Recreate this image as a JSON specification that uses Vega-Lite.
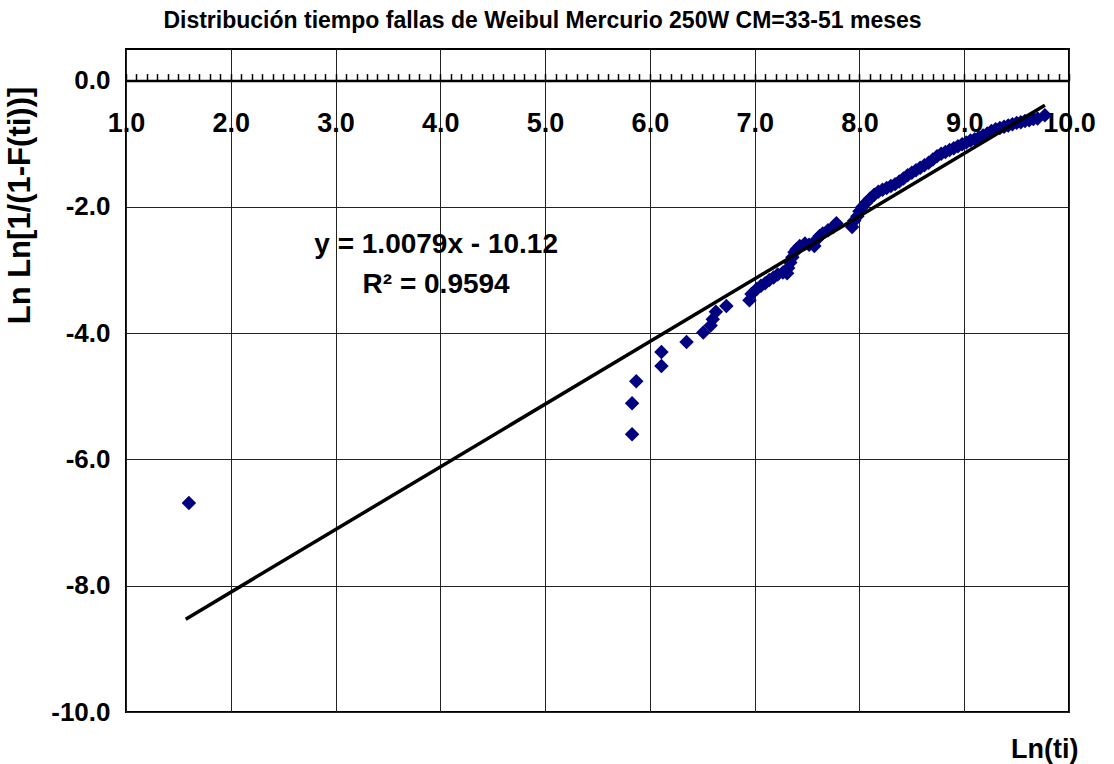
{
  "$schema": "https://vega.github.io/schema/vega-lite/v6.json",
  "width": 943,
  "height": 663,
  "autosize": {"type": "none"},
  "padding": {"left": 126, "top": 49, "right": 45, "bottom": 52},
  "background": "white",
  "config": {
    "view": {"stroke": "#000", "strokeWidth": 2},
    "font": "Liberation Sans"
  },
  "title": {
    "text": "Distribución tiempo fallas de Weibul Mercurio 250W CM=33-51 meses",
    "anchor": "middle",
    "dx": -55,
    "fontSize": 23,
    "fontWeight": "bold",
    "font": "Liberation Sans",
    "color": "#000",
    "offset": 16
  },
  "datasets": {
    "pts": [
      {"x": 1.60, "y": -6.69},
      {"x": 5.83, "y": -5.60},
      {"x": 5.83, "y": -5.11},
      {"x": 5.87, "y": -4.76},
      {"x": 6.11, "y": -4.52},
      {"x": 6.11, "y": -4.30},
      {"x": 6.35, "y": -4.14},
      {"x": 6.51, "y": -3.99},
      {"x": 6.58, "y": -3.88},
      {"x": 6.60, "y": -3.78},
      {"x": 6.63, "y": -3.66},
      {"x": 6.73, "y": -3.57},
      {"x": 6.95, "y": -3.48},
      {"x": 6.97, "y": -3.38},
      {"x": 7.02, "y": -3.30},
      {"x": 7.06, "y": -3.25},
      {"x": 7.10, "y": -3.21},
      {"x": 7.14, "y": -3.16},
      {"x": 7.18, "y": -3.12},
      {"x": 7.22, "y": -3.07},
      {"x": 7.27, "y": -3.04},
      {"x": 7.31, "y": -3.05},
      {"x": 7.32, "y": -2.97},
      {"x": 7.34, "y": -2.88},
      {"x": 7.36, "y": -2.80},
      {"x": 7.38, "y": -2.72},
      {"x": 7.40, "y": -2.67},
      {"x": 7.43, "y": -2.62},
      {"x": 7.48, "y": -2.58},
      {"x": 7.52, "y": -2.60},
      {"x": 7.57, "y": -2.62},
      {"x": 7.59, "y": -2.52},
      {"x": 7.62, "y": -2.46},
      {"x": 7.65, "y": -2.42},
      {"x": 7.70, "y": -2.37},
      {"x": 7.75, "y": -2.32},
      {"x": 7.78, "y": -2.26},
      {"x": 7.93, "y": -2.32},
      {"x": 7.95, "y": -2.22},
      {"x": 7.98, "y": -2.15},
      {"x": 8.00, "y": -2.07},
      {"x": 8.03, "y": -2.00},
      {"x": 8.06, "y": -1.94},
      {"x": 8.10, "y": -1.87},
      {"x": 8.14, "y": -1.81},
      {"x": 8.18, "y": -1.76},
      {"x": 8.22, "y": -1.73},
      {"x": 8.26, "y": -1.70},
      {"x": 8.30, "y": -1.67},
      {"x": 8.34, "y": -1.64},
      {"x": 8.38, "y": -1.60},
      {"x": 8.42, "y": -1.55},
      {"x": 8.46, "y": -1.50},
      {"x": 8.50, "y": -1.46},
      {"x": 8.54, "y": -1.42},
      {"x": 8.58, "y": -1.38},
      {"x": 8.62, "y": -1.34},
      {"x": 8.66, "y": -1.30},
      {"x": 8.70, "y": -1.25},
      {"x": 8.74, "y": -1.20},
      {"x": 8.78, "y": -1.16},
      {"x": 8.82, "y": -1.13},
      {"x": 8.86, "y": -1.10},
      {"x": 8.90, "y": -1.07},
      {"x": 8.94, "y": -1.04},
      {"x": 8.98, "y": -1.01},
      {"x": 9.02, "y": -0.98},
      {"x": 9.06, "y": -0.95},
      {"x": 9.10, "y": -0.93},
      {"x": 9.14, "y": -0.90},
      {"x": 9.18, "y": -0.87},
      {"x": 9.22, "y": -0.84},
      {"x": 9.26, "y": -0.80},
      {"x": 9.30, "y": -0.77},
      {"x": 9.34, "y": -0.75},
      {"x": 9.38, "y": -0.73},
      {"x": 9.42, "y": -0.71},
      {"x": 9.46, "y": -0.69},
      {"x": 9.50, "y": -0.67},
      {"x": 9.54, "y": -0.66},
      {"x": 9.58, "y": -0.64},
      {"x": 9.62, "y": -0.63},
      {"x": 9.66, "y": -0.61},
      {"x": 9.70, "y": -0.60},
      {"x": 9.77, "y": -0.55}
    ],
    "trend": [
      {"x": 1.57, "y": -8.53},
      {"x": 9.77, "y": -0.39}
    ],
    "eq": [
      {"x": 3.96, "y": -2.60, "label": "y = 1.0079x - 10.12"},
      {"x": 3.96, "y": -3.23, "label": "R² = 0.9594"}
    ]
  },
  "layer": [
    {
      "data": {"name": "pts"},
      "mark": {"type": "point", "shape": "diamond", "filled": true, "color": "#000080", "size": 210, "opacity": 1},
      "encoding": {
        "x": {
          "field": "x", "type": "quantitative",
          "scale": {"domain": [1, 10], "nice": false, "zero": false},
          "axis": {
            "orient": "bottom",
            "values": [1, 2, 3, 4, 5, 6, 7, 8, 9, 10],
            "grid": true, "gridColor": "#222", "gridWidth": 1,
            "labels": false, "ticks": false, "domain": false,
            "title": "Ln(ti)",
            "titleFont": "Liberation Sans",
            "titleFontSize": 27, "titleFontWeight": "bold", "titleColor": "#000",
            "titleAlign": "right", "titleBaseline": "alphabetic",
            "titleX": 952, "titleY": 45
          }
        },
        "y": {
          "field": "y", "type": "quantitative",
          "scale": {"domain": [-10, 0.5], "nice": false, "zero": false},
          "axis": {
            "values": [0, -2, -4, -6, -8, -10],
            "labelExpr": "datum.value == 0 ? '0.0' : datum.value + '.0'",
            "labelFont": "Liberation Sans",
            "labelFontSize": 26, "labelFontWeight": "bold", "labelColor": "#000",
            "labelPadding": 16, "labelFlush": false, "labelOverlap": false,
            "ticks": false, "tickSize": 0, "domain": false,
            "grid": true, "gridColor": "#222", "gridWidth": 1,
            "title": "Ln Ln[1/(1-F(ti))]",
            "titleFont": "Liberation Sans",
            "titleFontSize": 31, "titleFontWeight": "bold", "titleColor": "#000",
            "titleAngle": 270, "titleAlign": "center", "titleBaseline": "middle",
            "titleX": -106, "titleY": 156
          }
        }
      }
    },
    {
      "data": {"name": "trend"},
      "mark": {"type": "line", "color": "#000", "strokeWidth": 3.5},
      "encoding": {
        "x": {
          "field": "x", "type": "quantitative",
          "scale": {"domain": [1, 10], "nice": false, "zero": false},
          "axis": {
            "orient": "top",
            "offset": -31.571,
            "values": [1, 1.1, 1.2, 1.3, 1.4, 1.5, 1.6, 1.7, 1.8, 1.9, 2, 2.1, 2.2, 2.3, 2.4, 2.5, 2.6, 2.7, 2.8, 2.9, 3, 3.1, 3.2, 3.3, 3.4, 3.5, 3.6, 3.7, 3.8, 3.9, 4, 4.1, 4.2, 4.3, 4.4, 4.5, 4.6, 4.7, 4.8, 4.9, 5, 5.1, 5.2, 5.3, 5.4, 5.5, 5.6, 5.7, 5.8, 5.9, 6, 6.1, 6.2, 6.3, 6.4, 6.5, 6.6, 6.7, 6.8, 6.9, 7, 7.1, 7.2, 7.3, 7.4, 7.5, 7.6, 7.7, 7.8, 7.9, 8, 8.1, 8.2, 8.3, 8.4, 8.5, 8.6, 8.7, 8.8, 8.9, 9, 9.1, 9.2, 9.3, 9.4, 9.5, 9.6, 9.7, 9.8, 9.9, 10],
            "labels": false,
            "ticks": true, "tickSize": 7, "tickColor": "#000", "tickWidth": 1.5,
            "domain": true, "domainColor": "#000", "domainWidth": 2.5,
            "grid": false, "title": null
          }
        },
        "y": {
          "field": "y", "type": "quantitative",
          "scale": {"domain": [-10, 0.5], "nice": false, "zero": false},
          "axis": null
        }
      }
    },
    {
      "data": {"name": "eq"},
      "mark": {"type": "text", "font": "Liberation Sans", "fontSize": 28, "fontWeight": "bold", "color": "#000", "align": "center", "baseline": "middle"},
      "encoding": {
        "x": {
          "field": "x", "type": "quantitative",
          "scale": {"domain": [1, 10], "nice": false, "zero": false},
          "axis": {
            "orient": "bottom",
            "offset": -631.429,
            "values": [1, 2, 3, 4, 5, 6, 7, 8, 9, 10],
            "labelExpr": "datum.value + '.0'",
            "labelFont": "Liberation Sans",
            "labelFontSize": 27, "labelFontWeight": "bold", "labelColor": "#000",
            "labelPadding": 30, "labelFlush": false, "labelOverlap": false, "labelBound": false,
            "ticks": false, "tickSize": 0, "domain": false,
            "grid": false, "title": null
          }
        },
        "y": {
          "field": "y", "type": "quantitative",
          "scale": {"domain": [-10, 0.5], "nice": false, "zero": false},
          "axis": null
        },
        "text": {"field": "label", "type": "nominal"}
      }
    }
  ],
  "resolve": {"axis": {"x": "independent", "y": "independent"}}
}
